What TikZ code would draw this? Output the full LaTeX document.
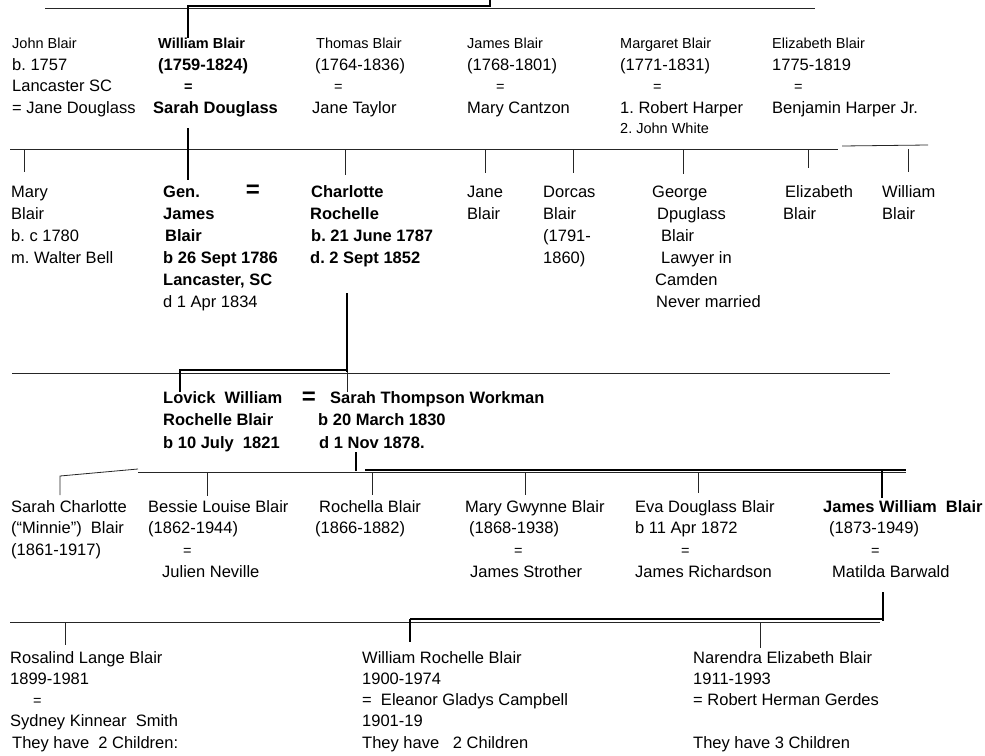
\documentclass[tikz,border=0pt]{standalone}
\usepackage{fontspec}
\setmainfont{Liberation Sans}
\frenchspacing
\newcommand\famlines[1]{\vtop{\lineskiplimit=-30pt\lineskip=0pt\halign{##\hfil\cr#1\crcr}}}
\newcommand\smf{\fontsize{14.5}{14.5}\selectfont}
\tikzset{
  pers/.style={anchor=base west, inner sep=0pt, font=\fontsize{16.5}{#1}\selectfont},
  pbold/.style={anchor=base west, inner sep=0pt, font=\fontsize{16.5}{#1}\selectfont\bfseries},
  bigeq/.style={anchor=base, inner sep=0pt, font=\fontsize{24}{24}\selectfont\bfseries},
  thinbar/.style={line width=0.8pt, draw=black!85},
  heavybar/.style={line width=2.3pt, draw=black},
  ticker/.style={line width=0.9pt, draw=black!85},
}
\begin{document}
\begin{tikzpicture}[x=1pt, y=-1pt]
\useasboundingbox (0,0) rectangle (985,755);
% ---------------- generation 1 -----------------
\node[pers=21.5] (john) at (12,48.5) {\famlines{{\smf John Blair}\cr b. 1757\cr Lancaster SC\cr = Jane Douglass}};
\node[pbold=21.5] (william) at (153,48.5) {\famlines{\kern5pt{\smf William Blair}\cr \kern5pt(1759-1824)\cr \kern31pt{\smf =}\cr Sarah Douglass}};
\node[pers=21.5] (thomas) at (312,48.5) {\famlines{\kern4pt{\smf Thomas Blair}\cr \kern3pt(1764-1836)\cr \kern22pt{\smf =}\cr Jane Taylor}};
\node[pers=21.5] (jamesA) at (467,48.5) {\famlines{{\smf James Blair}\cr (1768-1801)\cr \kern29pt{\smf =}\cr Mary Cantzon}};
\node[pers=21.5] (margaret) at (620,48.5) {\famlines{{\smf Margaret Blair}\cr (1771-1831)\cr \kern33pt{\smf =}\cr 1. Robert Harper}};
\node[anchor=base west, inner sep=0pt, font=\smf] (white) at (620,133) {2. John White};
\node[pers=21.5] (elizA) at (772,48.5) {\famlines{{\smf Elizabeth Blair}\cr 1775-1819\cr \kern22pt{\smf =}\cr Benjamin Harper Jr.}};
% ---------------- generation 2 -----------------
\node[pers=22] (mary) at (11,197) {\famlines{Mary\cr Blair\cr b. c 1780\cr m. Walter Bell}};
\node[pbold=22] (genjames) at (163,197) {\famlines{Gen.\cr James\cr \kern2pt Blair\cr b 26 Sept 1786\cr Lancaster, SC\cr {\mdseries d 1 Apr 1834}}};
\node[bigeq] (eqA) at (253,197.5) {=};
\node[pbold=22] (charlotte) at (310,197) {\famlines{\kern1pt Charlotte\cr Rochelle\cr \kern1pt b. 21 June 1787\cr d. 2 Sept 1852}};
\node[pers=22] (jane) at (467,197) {\famlines{Jane\cr Blair}};
\node[pers=22] (dorcas) at (543,197) {\famlines{Dorcas\cr Blair\cr (1791-\cr 1860)}};
\node[pers=22] (george) at (652,197) {\famlines{George\cr \kern5pt Dpuglass\cr \kern9pt Blair\cr \kern9pt Lawyer in\cr \kern3pt Camden\cr \kern4pt Never married}};
\node[pers=22] (elizB) at (783,197) {\famlines{\kern2pt Elizabeth\cr Blair}};
\node[pers=22] (williamB) at (882,197) {\famlines{William\cr Blair}};
% ---------------- generation 3 -----------------
\node[pbold=22.5] (lovick) at (163,403) {\famlines{Lovick\ \ William\cr Rochelle Blair\cr b 10 July\ \ 1821}};
\node[bigeq] (eqB) at (309,404.5) {=};
\node[pbold=22.5] (sarahT) at (318,403) {\famlines{\kern12pt Sarah Thompson Workman\cr b 20 March 1830\cr \kern1pt d 1 Nov 1878.}};
% ---------------- generation 4 -----------------
\node[pers=21.7] (sarahC) at (11,512) {\famlines{Sarah Charlotte\cr (“Minnie”)\ \ Blair\cr (1861-1917)}};
\node[pers=21.7] (bessie) at (148,512) {\famlines{Bessie Louise Blair\cr (1862-1944)\cr \kern35pt{\smf =}\cr \kern14pt Julien Neville}};
\node[pers=21.7] (rochella) at (315,512) {\famlines{\kern4pt Rochella Blair\cr (1866-1882)}};
\node[pers=21.7] (maryG) at (465,512) {\famlines{Mary Gwynne Blair\cr \kern4pt(1868-1938)\cr \kern49pt{\smf =}\cr \kern5pt James Strother}};
\node[pers=21.7] (eva) at (635,512) {\famlines{Eva Douglass Blair\cr b 11 Apr 1872\cr \kern46pt{\smf =}\cr James Richardson}};
\node[pbold=21.7] (jamesW) at (823,512) {\famlines{James William\ \ Blair\cr {\mdseries\kern6pt (1873-1949)}\cr {\mdseries\kern48pt\smf =}\cr {\mdseries\kern9pt Matilda Barwald}}};
% ---------------- generation 5 -----------------
\node[pers=21.3] (rosalind) at (10,663) {\famlines{Rosalind Lange Blair\cr 1899-1981\cr \kern23pt{\smf =}\cr Sydney Kinnear\ \ Smith\cr \kern2pt They have\ \ 2 Children:}};
\node[pers=21.3] (williamR) at (362,663) {\famlines{William Rochelle Blair\cr 1900-1974\cr =\ \ Eleanor Gladys Campbell\cr 1901-19\cr They have\ \ \ 2 Children}};
\node[pers=21.3] (narendra) at (693,663) {\famlines{Narendra Elizabeth Blair\cr 1911-1993\cr = Robert Herman Gerdes\cr \cr They have 3 Children}};
% ---------------- connectors -----------------
% bar above generation 1
\coordinate (b0L) at (45,8);  \coordinate (b0R) at (815,8);
\coordinate (up0) at (490,0);
\coordinate (wtop) at (188,6);
\draw[thinbar] (b0L) -- (b0R);
\draw[heavybar] (187,6) -- (490,6);
\draw[heavybar] (up0) -- (490,7);
\draw[heavybar] (wtop) -- (wtop |- william.north);
% bar above generation 2
\coordinate (b1L) at (10,149); \coordinate (b1R) at (838,149);
\draw[thinbar] (b1L) -- (b1R);
\draw[thinbar] (842,146) -- (928,145);
\draw[heavybar] (188,128) -- (188,180);
\foreach \x/\e in {24/172, 345/175, 485/173, 573/173, 683/174, 808/168, 908/172}
  \draw[ticker] (\x,149) -- (\x,\e);
% bar above generation 3
\coordinate (b2L) at (12,373); \coordinate (b2R) at (890,373);
\draw[thinbar] (b2L) -- (b2R);
\draw[heavybar] (347,293) -- (347,372);
\draw[ticker] (347,372) -- (347,392);
\draw[heavybar] (180,370) -- (347,370);
\draw[heavybar] (180,369) -- (180,392);
% bar above generation 4
\coordinate (b3L) at (138,472); \coordinate (b3R) at (906,472);
\draw[thinbar] (b3L) -- (b3R);
\draw[thinbar] (60,495) -- (60,476) -- (138,469);
\draw[heavybar] (356,452) -- (356,471);
\draw[heavybar] (365,470) -- (906,470);
\foreach \x/\e in {207/496, 372/495, 525/495, 698/493}
  \draw[ticker] (\x,472) -- (\x,\e);
\draw[heavybar] (882,470) -- (882,498);
% bar above generation 5
\coordinate (b4L) at (10,622); \coordinate (b4R) at (880,622);
\draw[thinbar] (b4L) -- (b4R);
\draw[heavybar] (883,592) -- (883,621);
\draw[heavybar] (410,619) -- (883,619);
\draw[heavybar] (410,619) -- (410,642);
\foreach \x/\e in {65/645, 760/648}
  \draw[ticker] (\x,622) -- (\x,\e);
\end{tikzpicture}
\end{document}
